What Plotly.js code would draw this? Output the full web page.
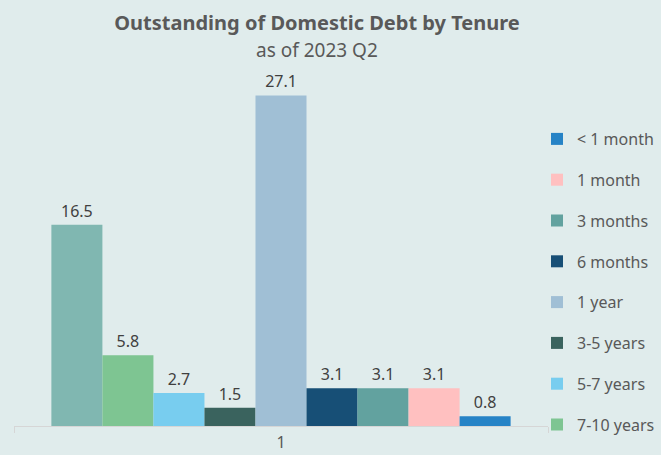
<!DOCTYPE html>
<html>
<head>
<meta charset="utf-8">
<script src="https://cdn.plot.ly/plotly-3.0.1.min.js"></script>
<style>html,body{margin:0;padding:0;background:#e0ecec;}#chart{width:661px;height:455px;}</style>
</head>
<body>
<div id="chart"></div>
<script>
// Series in drawing order (left to right)
const tenures = ["> 10 years", "7-10 years", "5-7 years", "3-5 years", "1 year", "6 months", "3 months", "1 month", "< 1 month"];
const values = [16.5, 5.8, 2.7, 1.5, 27.1, 3.1, 3.1, 3.1, 0.8];
const colors = ["#80b7b1", "#7ec592", "#78cdef", "#3a635e", "#a0bfd5", "#174f76", "#62a29f", "#ffc0c0", "#2683c6"];
const category = ["1"];

const font = "'Noto Sans', 'Open Sans', sans-serif";

const traces = tenures.map((name, i) => ({
  type: "bar",
  name: name,
  x: category,
  y: [values[i]],
  marker: {color: colors[i]},
  text: [values[i].toFixed(1)],
  textposition: "outside",
  cliponaxis: false,
  textfont: {size: 16, color: "#404040", family: font},
  legendgroup: "g" + i,
  legendrank: 1000 - i,
  showlegend: i !== 0,
  hoverinfo: "name+y"
}));

const layout = {
  width: 661, height: 455,
  paper_bgcolor: "#e0ecec",
  plot_bgcolor: "#e0ecec",
  font: {family: font, color: "#595959"},
  margin: {l: 14, r: 113, t: 60, b: 29, pad: 0, autoexpand: false},
  barmode: "group",
  bargap: 0.14,
  bargroupgap: 0,
  title: {
    text: "<b>Outstanding of Domestic Debt by Tenure</b>",
    font: {size: 20, color: "#595959", family: font},
    x: 317 / 661, xanchor: "center", xref: "container",
    y: 1 - 23 / 455, yanchor: "middle", yref: "container"
  },
  annotations: [{
    text: "as of 2023 Q2",
    xref: "paper", yref: "paper",
    x: (317 - 14) / 534, xanchor: "center",
    y: (426 - 50) / 366, yanchor: "middle",
    showarrow: false,
    font: {size: 19, color: "#595959", family: font}
  }],
  xaxis: {
    type: "category",
    showline: true, linecolor: "#d6d6d6", linewidth: 1,
    ticks: "outside", tickson: "boundaries", ticklen: 6, tickcolor: "#d6d6d6",
    tickfont: {size: 16, color: "#595959"},
    ticklabelstandoff: 2,
    showgrid: false, zeroline: false
  },
  yaxis: {
    range: [0, 30],
    visible: false,
    showgrid: false, zeroline: false
  },
  legend: {
    traceorder: "grouped",
    x: (537 - 14) / 534, xanchor: "left",
    y: (426 - 122) / 366, yanchor: "top",
    bgcolor: "rgba(0,0,0,0)",
    font: {size: 16, color: "#595959", family: font},
    tracegroupgap: 17
  },
  showlegend: true
};

Plotly.newPlot("chart", traces, layout, {displayModeBar: false, staticPlot: true});
</script>
</body>
</html>
